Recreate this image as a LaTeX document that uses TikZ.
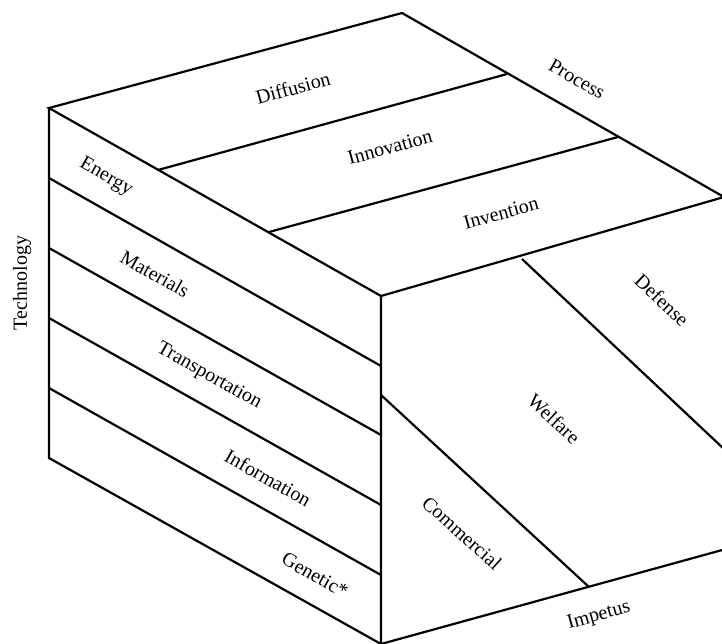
\documentclass[tikz,border=0pt]{standalone}
\usepackage{fontspec}
\setmainfont{Liberation Serif}
\begin{document}
\begin{tikzpicture}[x=1pt,y=-1pt,
  edge/.style={line width=2.2pt, line join=miter, black},
  lbl/.style={inner sep=0pt, font=\fontsize{20}{24}\selectfont}]
\useasboundingbox (0,0) rectangle (722,643);
\clip (0,0) rectangle (722,643);
% corners
\coordinate (A) at (49,108);
\coordinate (T) at (402,13);
\coordinate (R) at (724,197);
\coordinate (F) at (381,296);
\coordinate (B) at (49,458);
\coordinate (G) at (381,644);
\coordinate (Q) at (724,549.5);
% top dividers
\coordinate (t1a) at (158,170);
\coordinate (t1b) at (507,74);
\coordinate (t2a) at (269,232);
\coordinate (t2b) at (618,137);
% left strips
\coordinate (l1a) at (49,178); \coordinate (l1b) at (381,366);
\coordinate (l2a) at (49,248); \coordinate (l2b) at (381,435);
\coordinate (l3a) at (49,318); \coordinate (l3b) at (381,505);
\coordinate (l4a) at (49,388); \coordinate (l4b) at (381,575);
% right face dividers
\coordinate (d1a) at (522,259); \coordinate (d1b) at (724,449);
\coordinate (c1a) at (381,395); \coordinate (c1b) at (589,587);
% outline
\draw[edge] (A) -- (T) -- (R) -- (F) -- cycle;
\draw[edge] (A) -- (B) -- (G) -- (F);
\draw[edge] (R) -- (Q) -- (G);
\draw[edge] (t1a) -- (t1b);
\draw[edge] (t2a) -- (t2b);
\draw[edge] (l1a) -- (l1b);
\draw[edge] (l2a) -- (l2b);
\draw[edge] (l3a) -- (l3b);
\draw[edge] (l4a) -- (l4b);
\draw[edge] (d1a) -- (d1b);
\draw[edge] (c1a) -- (c1b);
% labels
\node[lbl, rotate=90] (tech) at (22,283) {Technology};
\node[lbl, rotate=15.4] (diff) at (293,88) {Diffusion};
\node[lbl, rotate=15.4] (inno) at (390,147) {Innovation};
\node[lbl, rotate=15.4] (inve) at (501,213) {Invention};
\node[lbl, rotate=-30] (proc) at (577,79) {Process};
\node[lbl, rotate=-29.5] (ener) at (106,177) {Energy};
\node[lbl, rotate=-29.5] (mate) at (155,274) {Materials};
\node[lbl, rotate=-29.5] (tran) at (209,376) {Transportation};
\node[lbl, rotate=-29.5] (info) at (268,478) {Information};
\node[lbl, rotate=-29.5] (gene) at (315,575) {Genetic*};
\node[lbl, rotate=-43] (defe) at (662,300) {Defense};
\node[lbl, rotate=-43] (welf) at (554,419) {Welfare};
\node[lbl, rotate=-42] (comm) at (462,533) {Commercial};
\node[lbl, rotate=15.4] (impe) at (599,616) {Impetus};
\end{tikzpicture}
\end{document}
